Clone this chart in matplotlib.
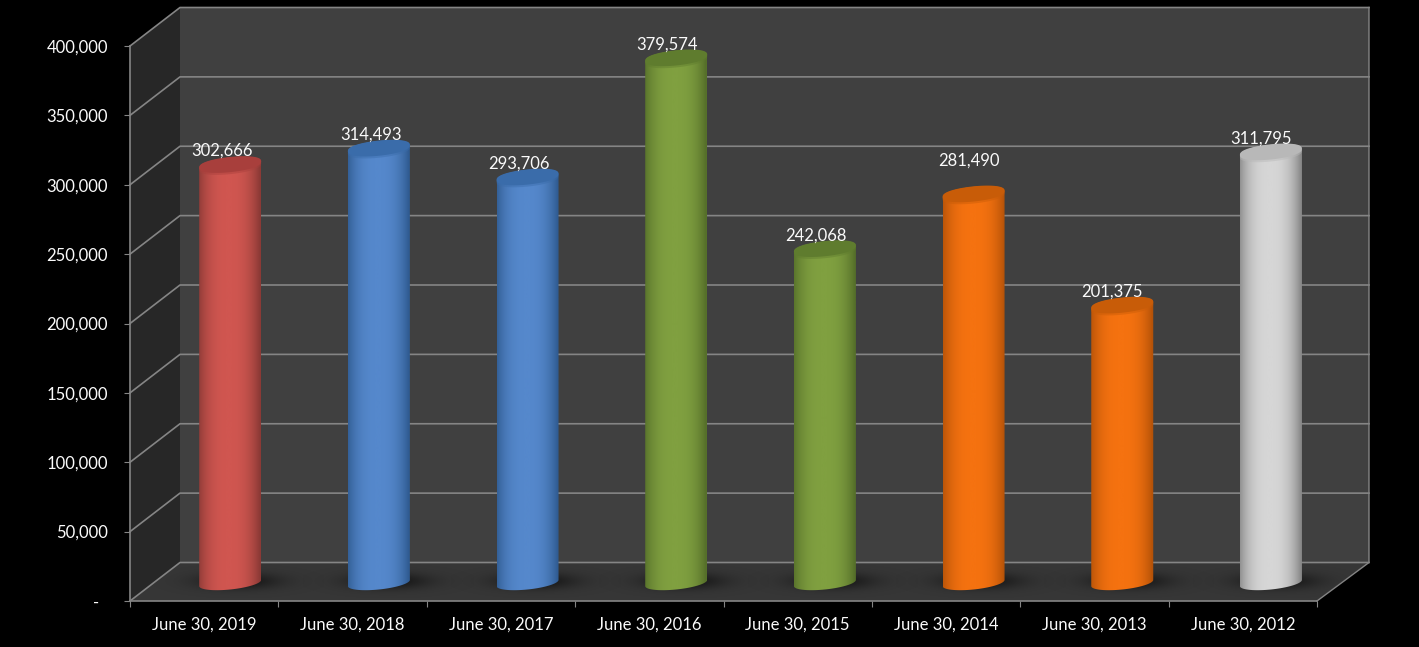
import numpy as np
from matplotlib import pyplot as plt
from matplotlib.colors import LinearSegmentedColormap, to_rgb
from matplotlib.patches import PathPatch, Polygon
from matplotlib.path import Path

plt.rcParams['font.family'] = ['Lato', 'DejaVu Sans']

dates = ['June 30, 2019', 'June 30, 2018', 'June 30, 2017', 'June 30, 2016',
         'June 30, 2015', 'June 30, 2014', 'June 30, 2013', 'June 30, 2012']
values = [302666, 314493, 293706, 379574, 242068, 281490, 201375, 311795]
yticks = [0, 50000, 100000, 150000, 200000, 250000, 300000, 350000, 400000]

# mid, edge and top colour of each cylinder
mid_colors = ['#d05650', '#5588cc', '#5588cc', '#80a040', '#80a040', '#f57210', '#f57210', '#d6d6d6']
edge_colors = ['#8c3a36', '#305c92', '#305c92', '#56702a', '#56702a', '#b45208', '#b45208', '#8a8a8a']
top_colors = ['#a83f3c', '#3a6caa', '#3a6caa', '#5f7c2e', '#5f7c2e', '#c85c08', '#c85c08', '#b8b8b8']
label_lift = [14, 14, 14, 14, 14, 34, 14, 14]
label_shift = [-8, -8, -9, -9, -9, -5, -10, -10]

fig = plt.figure(figsize=(14.19, 6.47), dpi=100, facecolor='black')
ax = fig.add_axes([130 / 1419, 46 / 647, 1187 / 1419, 555 / 647], facecolor='black')
n = len(dates)
ymax = yticks[-1]
xpx = n / 1187
ypx = ymax / 555
dep_x = 50 * xpx
dep_y = 38.5 * ypx
back_r = n + 52 * xpx

# walls and floor of the box
floor = [(0, 0), (n, 0), (back_r, dep_y), (dep_x, dep_y)]
ax.add_patch(Polygon([(dep_x, dep_y), (back_r, dep_y), (back_r, ymax + dep_y), (dep_x, ymax + dep_y)],
                     fc='#404040', ec='none', zorder=1, clip_on=False))
ax.add_patch(Polygon([(0, 0), (dep_x, dep_y), (dep_x, ymax + dep_y), (0, ymax)],
                     fc='#272727', ec='none', zorder=1, clip_on=False))
floor_patch = Polygon(floor, fc='#363636', ec='none', zorder=1, clip_on=False)
ax.add_patch(floor_patch)

grid = '#858585'
for v in yticks:
    ax.plot([0, dep_x, back_r], [v, v + dep_y, v + dep_y], color=grid, lw=1.2, zorder=2, clip_on=False)
ax.plot([n, back_r, back_r], [0, dep_y, ymax + dep_y], color=grid, lw=1.0, zorder=2, clip_on=False)

# soft shadows on the floor
gx, gy = np.meshgrid(np.linspace(-1, 1, 200), np.linspace(-1, 1, 60))
blob = np.exp(-(gx ** 2 + gy ** 2) * 4.5)
shadow = np.zeros(blob.shape + (4,))
shadow[..., 3] = blob * 0.6
for i in range(n):
    cx = i + 0.5 + dep_x / 2 + 10 * xpx
    cy = 20 * ypx
    im = ax.imshow(shadow, extent=[cx - 85 * xpx, cx + 85 * xpx, cy - 17 * ypx, cy + 17 * ypx],
                   aspect='auto', zorder=3, origin='lower')
    im.set_clip_path(floor_patch)
    im.set_clip_box(fig.bbox)  # the last one runs past the front edge

# cylinders, with a horizontal gradient clipped to the outline
half_w = 31
t = np.linspace(0, np.pi, 80)
u = np.linspace(0, 1, 256)
shade = 1 - np.abs(2 * u - 0.96) ** 2.6
s = np.linspace(0, 2 * np.pi, 160)
for i, v in enumerate(values):
    cx = i + 0.5 + dep_x / 2 + (1.0 + 0.3 * i) * xpx
    base = 18 * ypx
    top = v + 16 * ypx
    ex = half_w * np.cos(t)
    x_top = cx + ex * xpx
    y_top = top + (0.1 * ex + 7.6 * np.sin(t) ** 0.8) * ypx
    x_base = cx - ex * xpx
    y_base = base + (-0.1 * ex - 6.5 * np.sin(t)) * ypx
    outline = np.column_stack([np.r_[x_top, x_base], np.r_[y_top, y_base]])
    body = Path(np.vstack([outline, outline[0]]), closed=True)

    cmap = LinearSegmentedColormap.from_list('c', [to_rgb(edge_colors[i]), to_rgb(mid_colors[i])])
    im = ax.imshow(shade[None, :], cmap=cmap, vmin=0, vmax=1, aspect='auto', zorder=4,
                   extent=[cx - half_w * xpx, cx + half_w * xpx, 0, top + 20 * ypx])
    clip = PathPatch(body, transform=ax.transData, fc='none', ec='none')
    ax.add_patch(clip)
    im.set_clip_path(clip)

    # lid, rounded a little at both ends, with a faint bevel under it
    x_cap = cx + half_w * np.cos(s) * xpx
    y_cap = top + (0.1 * half_w * np.cos(s) + 7.6 * np.sign(np.sin(s)) * np.abs(np.sin(s)) ** 0.8) * ypx
    ax.fill(x_cap, y_cap - 1.5 * ypx, color=top_colors[i], alpha=0.45, lw=0, zorder=5, clip_on=False)
    ax.fill(x_cap, y_cap + 0.5 * ypx, color=top_colors[i], lw=0, zorder=5, clip_on=False)

    ax.annotate(f'{v:,}', (cx, top), xytext=(label_shift[i] * 0.72, label_lift[i] * 0.72),
                textcoords='offset points', ha='center', va='center', color='#fafafa',
                fontsize=12, zorder=6, annotation_clip=False)

ax.set_xlim(0, n)
ax.set_ylim(0, ymax)

for side in ['top', 'right']:
    ax.spines[side].set_visible(False)
for side in ['left', 'bottom']:
    ax.spines[side].set_color(grid)
    ax.spines[side].set_linewidth(1.2)
    ax.spines[side].set_zorder(7)

ax.set_yticks(yticks)
ax.set_yticklabels(['-  ' if v == 0 else f'{v:,}' for v in yticks])
ax.set_xticks(np.arange(n + 1))
ax.set_xticklabels([])
ax.set_xticks(np.arange(n) + 0.5, minor=True)
ax.set_xticklabels(dates, minor=True)
ax.tick_params(axis='y', colors='#fafafa', labelsize=12, length=4, color=grid, pad=12)
ax.tick_params(axis='x', which='major', length=4, color=grid)
ax.tick_params(axis='x', which='minor', length=0, labelsize=12, labelcolor='#fafafa', pad=11.5)

fig.savefig('out.png', dpi=100, facecolor='black')
